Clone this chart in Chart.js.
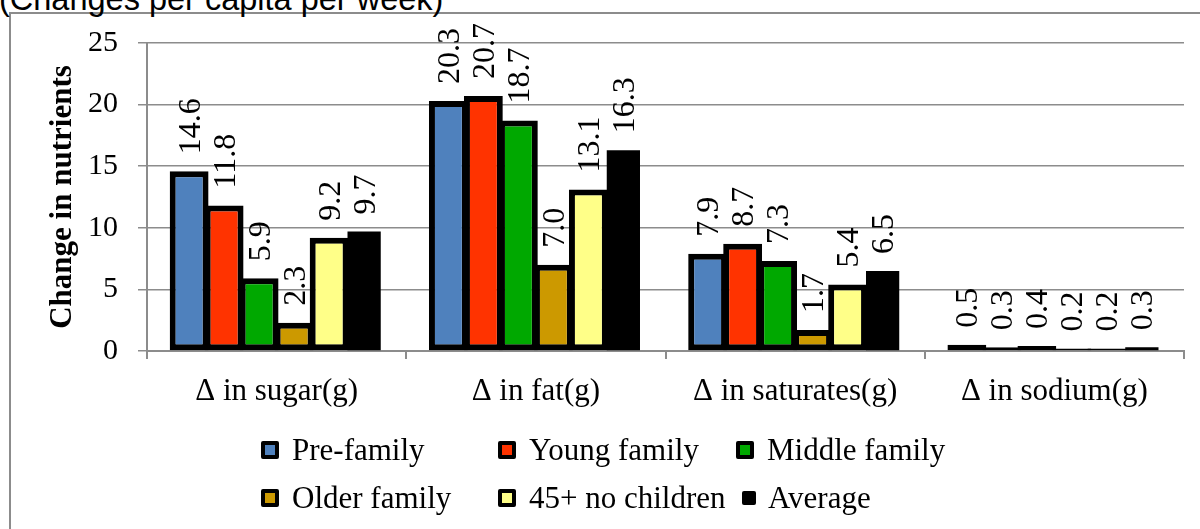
<!DOCTYPE html>
<html>
<head>
<meta charset="utf-8">
<script src="https://cdn.jsdelivr.net/npm/chart.js@4/dist/chart.umd.min.js"></script>
<style>
  html, body { margin: 0; padding: 0; background: #fff; }
  #wrap { position: relative; width: 1200px; height: 529px; overflow: hidden; }
  #frame { position: absolute; left: 9px; top: 12px; right: -5px; bottom: -5px;
           border-left: 2px solid #8c8c8c; border-top: 2px solid #8c8c8c; }
  #title { position: absolute; left: -1px; top: -17px; font: 32.5px "Liberation Sans", Arial, sans-serif;
           line-height: 32px; color: #000; white-space: nowrap; }
  #chart { position: absolute; left: 0; top: 0; }
  .leg { position: absolute; height: 40px; display: flex; align-items: center;
         font: 31px "Liberation Serif", "Times New Roman", serif; color: #000; white-space: nowrap; }
  .mk { width: 10px; height: 10px; border: 4px solid #000; border-radius: 2px; margin-right: 13px; }
</style>
</head>
<body>
<div id="wrap">
  <div id="frame"></div>
  <div id="title">(Changes per capita per week)</div>
  <canvas id="chart" width="1200" height="529"></canvas>
  <div id="legend"></div>
</div>
<script>
// Data
const categories = ['\u0394 in sugar(g)', '\u0394 in fat(g)', '\u0394 in saturates(g)', '\u0394 in sodium(g)'];
const seriesNames = ['Pre-family', 'Young family', 'Middle family', 'Older family', '45+ no children', 'Average'];
const preFamily    = [14.6, 20.3, 7.9, 0.5];
const youngFamily  = [11.8, 20.7, 8.7, 0.3];
const middleFamily = [5.9, 18.7, 7.3, 0.4];
const olderFamily  = [2.3, 7.0, 1.7, 0.2];
const noChildren45 = [9.2, 13.1, 5.4, 0.2];
const average      = [9.7, 16.3, 6.5, 0.3];
const yTicks = [0, 5, 10, 15, 20, 25];

const colors = ['#4F81BD', '#FF3300', '#00A800', '#CC9900', '#FFFF88', '#000000'];
const seriesData = [preFamily, youngFamily, middleFamily, olderFamily, noChildren45, average];

const serif = '"Liberation Serif", "Times New Roman", serif';

// value labels, rotated, above each bar
const barLabels = {
    id: 'barLabels',
    afterDatasetsDraw(chart) {
        const ctx = chart.ctx;
        ctx.save();
        ctx.font = '32px ' + serif;
        ctx.fillStyle = '#000';
        ctx.textAlign = 'left';
        ctx.textBaseline = 'middle';
        chart.data.datasets.forEach((ds, i) => {
            chart.getDatasetMeta(i).data.forEach((bar, j) => {
                ctx.save();
                ctx.translate(bar.x + 2, bar.y - 17);
                ctx.rotate(-Math.PI / 2);
                ctx.fillText(ds.data[j].toFixed(1), 0, 0);
                ctx.restore();
            });
        });
        ctx.restore();
    }
};

new Chart(document.getElementById('chart'), {
    type: 'bar',
    data: {
        labels: categories,
        datasets: seriesNames.map((name, i) => ({
            label: name,
            data: seriesData[i],
            backgroundColor: colors[i],
            borderColor: '#000',
            borderWidth: i === 5 ? 0 : 6,
            borderSkipped: false,
            categoryPercentage: 0.81,
            barPercentage: i === 5 ? 0.95 : 1.11
        }))
    },
    options: {
        responsive: false,
        animation: false,
        layout: { padding: { left: 44, right: 16, top: 43, bottom: 118 } },
        plugins: { legend: { display: false }, tooltip: { enabled: false } },
        scales: {
            x: {
                afterFit: (s) => { s.height = 60; },
                grid: { drawOnChartArea: false, drawTicks: true, tickLength: 8, color: '#8c8c8c', lineWidth: 2 },
                border: { color: '#8c8c8c', width: 2 },
                ticks: { color: '#000', font: { family: serif, size: 31 }, padding: 14, maxRotation: 0 }
            },
            y: {
                min: 0, max: 25,
                afterFit: (s) => { s.width = 103; },
                afterBuildTicks: (s) => { s.ticks = yTicks.map(v => ({ value: v })); },
                grid: { color: '#8c8c8c', lineWidth: 1.5, tickLength: 9 },
                border: { color: '#8c8c8c', width: 2 },
                ticks: { color: '#000', font: { family: serif, size: 30 }, padding: 20 },
                title: {
                    display: true, text: 'Change in nutrients', color: '#000',
                    font: { family: serif, size: 31, weight: 'bold' }, padding: 0
                }
            }
        }
    },
    plugins: [barLabels]
});

// legend in two rows of three columns
const legend = document.getElementById('legend');
const legX = [261, 498, 736];
const legY = [430, 478];
seriesNames.forEach((name, i) => {
    const item = document.createElement('div');
    item.className = 'leg';
    item.style.left = legX[i % 3] + 'px';
    item.style.top = legY[Math.floor(i / 3)] + 'px';
    const mk = document.createElement('div');
    mk.className = 'mk';
    if (i === 5) {
        mk.style.cssText = 'width:14px;height:14px;border:0;background:#000;margin-right:12px;margin-left:6px;';
    } else {
        mk.style.background = colors[i];
    }
    const txt = document.createElement('span');
    txt.textContent = name;
    item.appendChild(mk);
    item.appendChild(txt);
    legend.appendChild(item);
});
</script>
</body>
</html>
